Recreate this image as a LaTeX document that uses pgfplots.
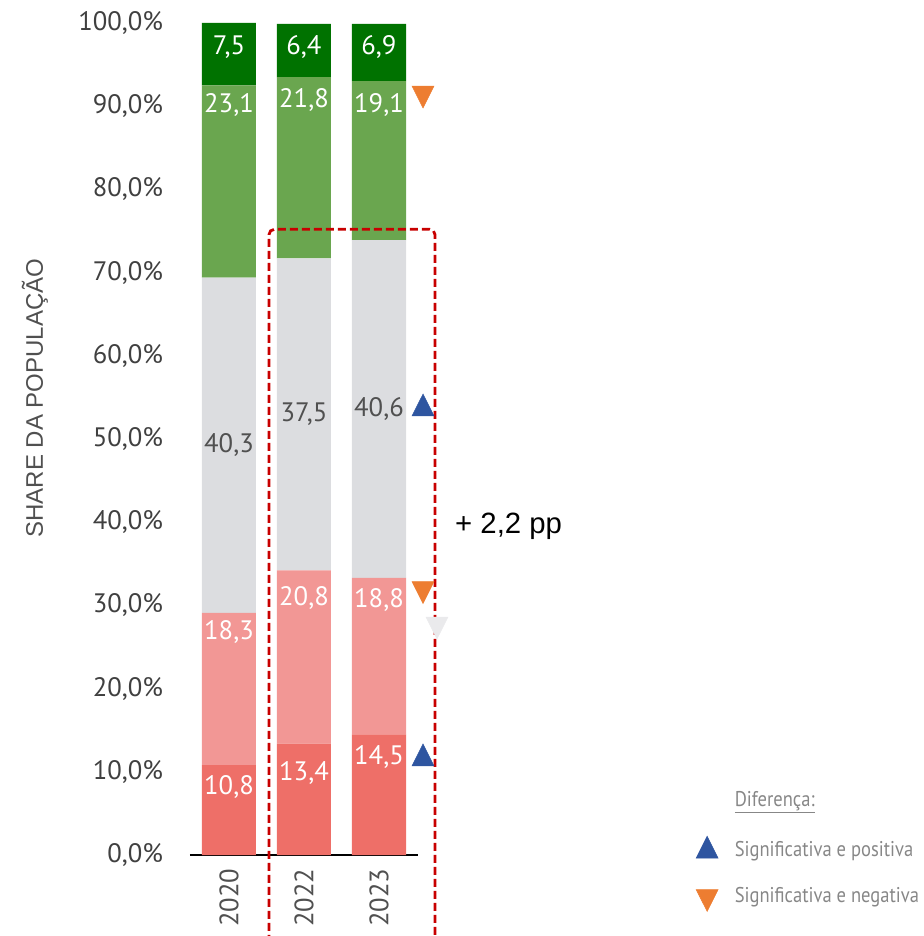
\documentclass[border=0pt]{standalone}
\usepackage{pgfplots}
\pgfplotsset{compat=1.18}
\usepackage{fontspec}
\setmainfont{PT Sans}
\newfontfamily\arialf{Liberation Sans}
\newfontfamily\legf[FakeStretch=0.87]{PT Sans}
\definecolor{dgreen}{RGB}{0,114,0}
\definecolor{lgreen}{RGB}{106,166,79}
\definecolor{grayc}{RGB}{220,221,224}
\definecolor{pinkc}{RGB}{242,151,149}
\definecolor{redc}{RGB}{238,111,104}
\definecolor{tickgray}{RGB}{64,64,64}
\definecolor{labgray}{RGB}{80,80,80}
\definecolor{leggray}{RGB}{135,135,135}
\definecolor{bluec}{RGB}{46,85,160}
\definecolor{orangec}{RGB}{237,125,49}
\definecolor{faintc}{RGB}{234,234,236}
\definecolor{dashred}{RGB}{200,0,0}
\pgfplotsset{
  lbl/.style={nodes near coords={\pgfmathprintnumber[fixed,fixed zerofill,precision=1,use comma,assume math mode=true]{\pgfplotspointmeta}},
    every node near coord/.append style={anchor=center, text=#1, font=\fontsize{20}{24}\selectfont, inner sep=0pt}},
}
\begin{document}
\begin{tikzpicture}
\path[use as bounding box] (-142.5pt,-60.75pt) rectangle (550.5pt,641.25pt);
\begin{axis}[
  at={(0,0)}, anchor=south west,
  scale only axis, width=171pt, height=624pt,
  xmin=-0.52, xmax=2.52, ymin=0, ymax=100,
  ybar stacked, bar width=0.72,
  axis x line*=bottom, axis y line*=left,
  y axis line style={draw=none},
  x axis line style={black, line width=1.5pt, -},
  xtick={0,1,2}, xticklabels={2020,2022,2023},
  ytick={0,10,20,30,40,50,60,70,80,90,100},
  tick style={draw=none},
  yticklabel={\pgfmathprintnumber[fixed,fixed zerofill,precision=1,use comma,assume math mode=true]{\tick}\%},
  yticklabel style={font=\fontsize{20}{24}\selectfont, text=tickgray, anchor=east, inner sep=0pt, xshift=-20pt},
  xticklabel style={font=\fontsize{20}{24}\selectfont, text=labgray, yshift=-10pt, rotate=90, anchor=east, inner sep=0pt},
  clip=false,
]
\addplot[fill=redc, draw=none] coordinates {(0,10.8) (1,13.4) (2,14.5)};
\addplot[fill=pinkc, draw=none] coordinates {(0,18.3) (1,20.8) (2,18.8)};
\addplot[fill=grayc, draw=none] coordinates {(0,40.3) (1,37.5) (2,40.6)};
\addplot[fill=lgreen, draw=none] coordinates {(0,23.1) (1,21.8) (2,19.1)};
\addplot[fill=dgreen, draw=none] coordinates {(0,7.5) (1,6.4) (2,6.9)};
\end{axis}
\begin{axis}[
  at={(0,0)}, anchor=south west,
  scale only axis, width=171pt, height=624pt,
  xmin=-0.52, xmax=2.52, ymin=0, ymax=100,
  axis lines=none, clip=false,
  point meta=explicit,
  legend style={draw=none, fill=none, at={(axis cs:6.22,7.81)}, anchor=north west,
    font=\legf\fontsize{16}{19}\selectfont, text=leggray, row sep=19.5pt, inner sep=0pt,
    nodes={inner sep=0pt, text height=12pt, text depth=3pt},
    /tikz/every odd column/.append style={column sep=12.5pt}},
  legend cell align=left,
]
\draw[dashred, line width=2.1pt, dash pattern=on 6pt off 3pt, rounded corners=4pt]
  (axis cs:0.533,-12) -- (axis cs:0.533,75.2) -- (axis cs:2.747,75.2) -- (axis cs:2.747,-12);
% value labels of the bar segments
\addplot[draw=none, mark=none, forget plot, lbl=white] coordinates {
  (0,97.1)[7.5] (1,97.1)[6.4] (2,97.1)[6.9]
  (0,90.1)[23.1] (1,90.7)[21.8] (2,90.1)[19.1]
  (0,26.8)[18.3] (1,30.9)[20.8] (2,30.6)[18.8]
  (0,8.2)[10.8] (1,9.9)[13.4] (2,11.8)[14.5]};
\addplot[draw=none, mark=none, forget plot, lbl=labgray]
  coordinates {(0,49.25)[40.3] (1,52.95)[37.5] (2,53.6)[40.6]};
\addplot[only marks, mark=triangle*, mark size=9.5pt, point meta=none, forget plot,
  mark options={rotate=180, yscale=1.15, fill=faintc, draw=faintc}] coordinates {(2.773,27.72)};
\addlegendimage{empty legend}
\addlegendentry{\underline{Diferença:}}
\addplot[only marks, mark=triangle*, mark size=9.5pt, point meta=none, color=bluec,
  mark options={yscale=1.15, fill=bluec, draw=bluec}] coordinates {(2.587,53.65) (2.587,11.59)};
\addlegendentry{Significativa e positiva}
\addplot[only marks, mark=triangle*, mark size=9.5pt, point meta=none, color=orangec,
  mark options={rotate=180, yscale=1.15, fill=orangec, draw=orangec}] coordinates {(2.587,91.54) (2.587,31.98)};
\addlegendentry{Significativa e negativa}
\node[anchor=base west, inner sep=0pt, font=\arialf\fontsize{22}{26}\selectfont, text=black] at (axis cs:3.013,38.7) {+ 2,2 pp};
\node[rotate=90, anchor=center, inner sep=0pt, font=\arialf\fontsize{18}{22}\selectfont, text=labgray] at (axis cs:-2.587,54.9) {SHARE DA POPULAÇÃO};
\end{axis}
\end{tikzpicture}
\end{document}
